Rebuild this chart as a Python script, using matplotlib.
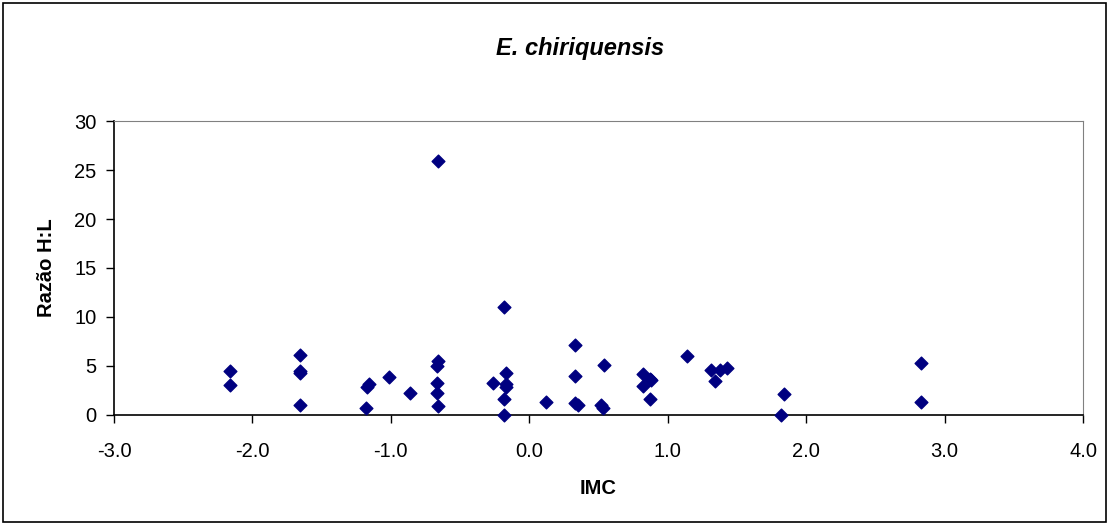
import matplotlib.pyplot as plt
from matplotlib.patches import Rectangle

# IMC vs Razão H:L
imc = [-2.16, -2.16, -1.66, -1.66, -1.66, -1.655,
       -1.18, -1.17, -1.16, -1.01, -0.86,
       -0.66, -0.66, -0.67, -0.67, -0.67, -0.66,
       -0.26, -0.18, -0.17, -0.17, -0.17, -0.18, -0.18,
       0.12, 0.33, 0.33, 0.33, 0.35, 0.54, 0.52, 0.53,
       0.82, 0.82, 0.87, 0.88, 0.875, 1.14, 1.31, 1.34, 1.38, 1.43,
       1.84, 1.82, 2.83, 2.83]
razao = [4.44, 3.07, 6.13, 4.45, 4.25, 0.96,
         0.72, 2.86, 3.14, 3.85, 2.22,
         25.97, 5.52, 4.98, 3.27, 2.22, 0.86,
         3.27, 11.04, 4.3, 3.14, 2.86, 1.57, 0.0,
         1.27, 7.16, 3.99, 1.2, 0.96, 5.11, 0.99, 0.72,
         4.19, 2.97, 3.62, 3.55, 1.57, 6.0, 4.6, 3.41, 4.54, 4.74,
         2.12, 0.0, 5.26, 1.27]

xticks = [-3.0, -2.0, -1.0, 0.0, 1.0, 2.0, 3.0, 4.0]
yticks = [0, 5, 10, 15, 20, 25, 30]

plt.rcParams['font.family'] = ['Liberation Sans', 'DejaVu Sans']

fig = plt.figure(figsize=(11.09, 5.24), dpi=100)
ax = fig.add_axes([0.1028, 0.2086, 0.8738, 0.5599])

ax.scatter(imc, razao, marker="D", s=42, color="#000080", zorder=3, clip_on=False)

ax.set_xlim(-3.0, 4.0)
ax.set_ylim(0, 30)
ax.set_xticks(xticks)
ax.set_xticklabels([f"{v:.1f}" for v in xticks])
ax.set_yticks(yticks)
ax.tick_params(labelsize=14.5, direction="out", length=5.5, width=1, color="black")
ax.tick_params(axis="x", pad=14)
ax.tick_params(axis="y", pad=7)

for s in ["top", "right"]:
    ax.spines[s].set_color("#808080")
for s in ["left", "bottom"]:
    ax.spines[s].set_color("black")
    ax.spines[s].set_linewidth(1.2)

ax.set_xlabel("IMC", fontsize=14.5, fontweight="bold", labelpad=13)
ax.set_ylabel("Razão H:L", fontsize=14.5, fontweight="bold", labelpad=13)

fig.text(0.523, 0.908, "E. chiriquensis", ha="center", va="center",
         fontsize=17, fontweight="bold", fontstyle="italic")

# moldura externa
fig.patches.append(Rectangle((0.003, 0.004), 0.994, 0.990, transform=fig.transFigure,
                             fill=False, edgecolor="black", linewidth=1.2))

fig.savefig("out.png", dpi=100)
